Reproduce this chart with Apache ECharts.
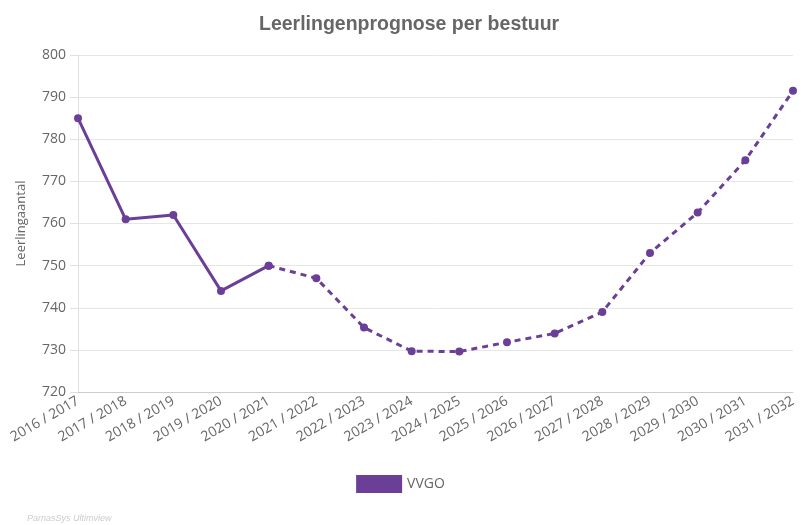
<!DOCTYPE html>
<html><head><meta charset="utf-8">
<script src="https://cdn.jsdelivr.net/npm/echarts@6/dist/echarts.min.js"></script>
<style>html,body{margin:0;padding:0;background:#fff}#c{width:801px;height:525px}</style>
</head><body><div id="c"></div>
<script>
const categories = ['2016 / 2017','2017 / 2018','2018 / 2019','2019 / 2020','2020 / 2021','2021 / 2022','2022 / 2023','2023 / 2024','2024 / 2025','2025 / 2026','2026 / 2027','2027 / 2028','2028 / 2029','2029 / 2030','2030 / 2031','2031 / 2032'];
const actual = [785, 761, 762, 744, 750, null, null, null, null, null, null, null, null, null, null, null];
const forecast = [null, null, null, null, 750, 747, 735.3, 729.7, 729.6, 731.8, 733.9, 739, 753, 762.6, 775, 791.5];
const seriesName = 'VVGO';
const color = '#6b3f98';
const chart = echarts.init(document.getElementById('c'));
const font = "'Open Sans', sans-serif";
chart.setOption({
  animation: false,
  title: {text: 'Leerlingenprognose per bestuur', left: 254, top: 10,
    textStyle: {fontFamily: "'Liberation Sans Narrow', Arial, sans-serif", fontSize: 19.5, fontWeight: 'bold', color: '#666'}},
  graphic: [{type: 'text', left: 27, top: 514, style: {text: 'ParnasSys Ultimview', fill: '#ccc', font: 'italic 9px Arial'}}],
  legend: {data: [seriesName], bottom: 27, left: 'center', icon: 'rect', itemWidth: 46, itemHeight: 18, itemGap: 10,
    textStyle: {fontFamily: font, fontSize: 14, color: '#666'}},
  grid: {left: 78, right: 8, top: 55, bottom: 133, containLabel: false},
  xAxis: {type: 'category', data: categories, boundaryGap: false,
    axisLine: {lineStyle: {color: '#ccc'}}, axisTick: {show: false},
    axisLabel: {rotate: 30, fontFamily: font, fontSize: 14, color: '#666', margin: 8, interval: 0}},
  yAxis: {type: 'value', min: 720, max: 800, interval: 10, name: 'Leerlingaantal', nameLocation: 'middle', nameGap: 50,
    nameTextStyle: {fontFamily: font, fontSize: 13, color: '#666'},
    axisLine: {show: true, lineStyle: {color: '#e0e0e0'}}, axisTick: {show: true, length: 8, lineStyle: {color: '#e0e0e0'}},
    axisLabel: {fontFamily: font, fontSize: 14, color: '#666', margin: 12},
    splitLine: {lineStyle: {color: '#e6e6e6'}}},
  series: [
    {name: seriesName, type: 'line', data: actual, color: color, symbol: 'circle', symbolSize: 8,
      lineStyle: {width: 3, color: color}, itemStyle: {color: color}},
    {name: seriesName, type: 'line', data: forecast, color: color, symbol: 'circle', symbolSize: 8,
      lineStyle: {width: 3, type: [6, 5], color: color}, itemStyle: {color: color}}
  ]
});
</script></body></html>
